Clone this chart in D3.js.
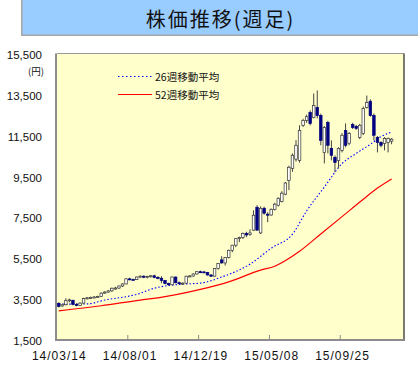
<!DOCTYPE html>
<html>
<head>
<meta charset="utf-8">
<script src="https://cdn.jsdelivr.net/npm/d3@7"></script>
<style>
body { margin: 0; background: #fff; }
svg { display: block; font-family: "Liberation Sans", Arial, sans-serif; }
</style>
</head>
<body>
<svg id="SVG_CONTAINER" width="420" height="366"></svg>
<script>
let d3 = window.d3;

// weekly candles, 14/03/14 onwards
const openVals  = [3250,3120,3180,3380,3400,3200,3150,3260,3480,3520,3540,3560,3580,3750,3800,3860,3990,4000,4100,4200,
                   4450,4420,4410,4540,4580,4530,4560,4600,4520,4480,4370,4220,4160,4540,4260,4210,4240,4580,4590,4690,
                   4800,4790,4760,4640,4580,4960,5380,5230,5500,5850,6100,6420,6480,6680,6620,6840,7960,6700,7910,7620,
                   7580,7860,8060,8250,8600,9280,9870,10320,10260,11980,12220,12610,12370,12860,12460,10650,12120,10850,10410,10260,
                   10750,11730,11100,12020,11930,11390,11580,12860,13160,12460,11390,11140,11090,11140,11200];
const highVals  = [3300,3200,3500,3480,3420,3250,3300,3520,3560,3580,3600,3620,3780,3850,3900,4020,4060,4120,4230,4480,
                   4500,4460,4560,4620,4620,4600,4640,4650,4580,4580,4400,4260,4560,4560,4320,4280,4600,4640,4720,4820,
                   4850,4840,4790,4680,4980,5220,5560,5520,5880,6120,6450,6520,6720,6760,6880,7810,8060,8000,7990,7720,
                   7900,8180,8450,8750,9200,10000,10600,11250,11980,12300,12500,12710,13540,13690,12550,11950,12200,11240,10500,10900,
                   11600,12070,11650,12100,12000,12050,12900,13440,13250,12560,11450,11200,11400,11380,11350];
const lowVals   = [3050,3080,3150,3300,3150,3100,3120,3240,3440,3480,3500,3520,3560,3720,3780,3820,3920,3950,4050,4180,
                   4380,4370,4390,4500,4480,4470,4520,4480,4430,4240,4180,4130,4140,4230,4180,4150,4220,4540,4560,4660,
                   4740,4740,4610,4540,4560,4900,5200,5100,5450,5750,6000,6250,6400,6500,6560,6800,6800,6650,7600,7230,
                   7550,7800,8000,8200,8550,8800,9700,10200,10150,11900,12100,11980,12320,12320,11000,10110,10600,10260,9680,9870,
                   10650,10900,11000,11800,11750,11300,11500,12800,12400,11240,10650,10900,10750,10650,11050];
const closeVals = [3100,3180,3380,3420,3200,3150,3260,3480,3520,3540,3560,3580,3750,3800,3860,3990,4000,4100,4200,4450,
                   4420,4410,4540,4580,4530,4560,4600,4520,4480,4370,4220,4160,4540,4260,4210,4240,4580,4590,4690,4800,
                   4790,4760,4640,4580,4960,5200,5230,5500,5850,6100,6420,6480,6680,6600,6700,7570,6840,7910,7670,7580,
                   7860,8110,8400,8650,9150,9920,10510,11000,11730,12220,12400,12070,12950,12460,11240,11870,11000,10510,10160,10850,
                   11490,11000,11580,11870,11830,11980,12810,13100,12460,11490,11140,11000,11340,11340,11300];

// moving averages (week index, value)
const ma26Weeks = [0, 8, 13, 22, 27, 35, 40, 46, 54, 60, 66, 70, 75, 80, 84, 88, 91, 94];
const ma26Vals  = [3210, 3220, 3410, 3690, 3990, 4190, 4240, 4540, 5170, 5950, 6640, 7780, 8950, 10100, 10600, 11050, 11420, 11650];
const ma52Weeks = [0, 12, 23, 28, 40, 48, 57, 61, 68, 74, 80, 86, 90, 94];
const ma52Vals  = [2880, 3130, 3410, 3520, 3930, 4300, 4880, 5070, 5800, 6650, 7500, 8350, 8900, 9350];

const yTicks     = [1500, 3500, 5500, 7500, 9500, 11500, 13500, 15500];
const tickIndex  = [0, 20, 40, 60, 80];
const tickLabels = ["14/03/14", "14/08/01", "14/12/19", "15/05/08", "15/09/25"];
const legendNames = ["26週移動平均", "52週移動平均"];

const PLOT = { "LEFT": 57, "RIGHT": 404, "TOP": 53.5, "BOTTOM": 339 };
const SLOTS = 98;

let svg = d3.select("#SVG_CONTAINER");

let xScale = d3.scaleLinear()
    .domain([0, SLOTS])
    .range([PLOT.LEFT, PLOT.RIGHT]);

let yScale = d3.scaleLinear()
    .domain([1500, 15500])
    .range([PLOT.BOTTOM, PLOT.TOP]);

let cx = i => xScale(i + 0.5);
let bodyW = (xScale(1) - xScale(0)) * 0.72;

// title box
svg.append("rect")
    .attr("x", 21).attr("y", 0)
    .attr("width", 397).attr("height", 36)
    .attr("fill", "#a6a6a6");
svg.append("rect")
    .attr("x", 22.5).attr("y", 0)
    .attr("width", 395.5).attr("height", 34.5)
    .attr("fill", "#99ccff");
svg.append("text")
    .attr("x", 220.5).attr("y", 27)
    .attr("text-anchor", "middle")
    .style("font-family", "'Noto Sans CJK JP', sans-serif")
    .style("font-size", "20px")
    .style("letter-spacing", "2px")
    .style("fill", "#111")
    .text("株価推移(週足)");

// plot area
svg.append("rect")
    .attr("x", PLOT.LEFT).attr("y", PLOT.TOP)
    .attr("width", PLOT.RIGHT - PLOT.LEFT)
    .attr("height", PLOT.BOTTOM - PLOT.TOP)
    .attr("fill", "#ffffcc");
svg.append("line")
    .attr("x1", PLOT.LEFT).attr("x2", PLOT.RIGHT)
    .attr("y1", PLOT.TOP).attr("y2", PLOT.TOP)
    .attr("stroke", "#999").attr("stroke-width", 1);
svg.append("line")
    .attr("x1", PLOT.LEFT - 1).attr("x2", PLOT.LEFT - 1)
    .attr("y1", PLOT.TOP).attr("y2", PLOT.BOTTOM + 2)
    .attr("stroke", "#8c8c8c").attr("stroke-width", 2);
svg.append("line")
    .attr("x1", PLOT.LEFT - 2).attr("x2", PLOT.RIGHT + 1)
    .attr("y1", PLOT.BOTTOM + 1).attr("y2", PLOT.BOTTOM + 1)
    .attr("stroke", "#8c8c8c").attr("stroke-width", 2);
svg.append("line")
    .attr("x1", PLOT.RIGHT).attr("x2", PLOT.RIGHT)
    .attr("y1", PLOT.TOP).attr("y2", PLOT.BOTTOM)
    .attr("stroke", "#222").attr("stroke-width", 1.2);

// small inside ticks on the x axis
svg.selectAll(".xtick")
    .data(tickIndex.filter(d => d > 0))
    .join("line")
    .attr("class", "xtick")
    .attr("x1", d => xScale(d)).attr("x2", d => xScale(d))
    .attr("y1", PLOT.BOTTOM).attr("y2", PLOT.BOTTOM - 4)
    .attr("stroke", "#888");

// y axis
let yAxis = d3.axisLeft(yScale)
    .tickValues(yTicks)
    .tickSize(0)
    .tickPadding(0)
    .tickFormat(d3.format(","));
let gy = svg.append("g")
    .attr("transform", "translate(42,1.5)")
    .call(yAxis);
gy.select(".domain").remove();
gy.selectAll("text")
    .style("font-family", "'Liberation Sans', Arial, sans-serif")
    .style("font-size", "11.5px")
    .style("fill", "#111");

svg.append("text")
    .attr("x", 44).attr("y", 75)
    .attr("text-anchor", "end")
    .style("font-family", "'Noto Sans CJK JP', sans-serif")
    .style("font-size", "9.5px")
    .style("fill", "#111")
    .text("(円)");

// x axis
let xAxis = d3.axisBottom(xScale)
    .tickValues(tickIndex.map(d => d + 0.5))
    .tickSize(0)
    .tickPadding(12)
    .tickFormat((d, i) => tickLabels[i]);
let gx = svg.append("g")
    .attr("transform", "translate(0," + PLOT.BOTTOM + ")")
    .call(xAxis);
gx.select(".domain").remove();
gx.selectAll("text")
    .style("font-family", "'Liberation Sans', Arial, sans-serif")
    .style("font-size", "12px")
    .style("letter-spacing", "1px")
    .style("fill", "#111");

// moving averages
let ma26 = ma26Weeks.map((w, i) => ({ w: w, v: ma26Vals[i] }));
let ma52 = ma52Weeks.map((w, i) => ({ w: w, v: ma52Vals[i] }));
let line = d3.line()
    .x(d => cx(d.w))
    .y(d => yScale(d.v))
    .curve(d3.curveMonotoneX);

svg.append("path")
    .attr("d", line(ma52))
    .attr("fill", "none")
    .attr("stroke", "#ff0000")
    .attr("stroke-width", 1.2);
svg.append("path")
    .attr("d", line(ma26))
    .attr("fill", "none")
    .attr("stroke", "#0000ff")
    .attr("stroke-width", 1.1)
    .attr("stroke-dasharray", "1.5,2");

// candles
let candles = openVals.map((o, i) => ({ i: i, o: o, h: highVals[i], l: lowVals[i], c: closeVals[i] }));

let chart = svg.append("g").attr("class", "candles");
chart.selectAll(".wick")
    .data(candles)
    .join("line")
    .attr("class", "wick")
    .attr("x1", d => cx(d.i)).attr("x2", d => cx(d.i))
    .attr("y1", d => yScale(d.h)).attr("y2", d => yScale(d.l))
    .attr("stroke", "#444")
    .attr("stroke-width", 1);
chart.selectAll(".body")
    .data(candles)
    .join("rect")
    .attr("class", "body")
    .attr("x", d => cx(d.i) - bodyW / 2)
    .attr("width", bodyW)
    .attr("y", d => yScale(Math.max(d.o, d.c)))
    .attr("height", d => Math.max(1, Math.abs(yScale(d.o) - yScale(d.c))))
    .attr("fill", d => d.c >= d.o ? "#ffffff" : "#000080")
    .attr("stroke", d => d.c >= d.o ? "#333" : "#000080")
    .attr("stroke-width", 0.7);

// legend
let legend = svg.append("g").attr("class", "legend");
legend.append("line")
    .attr("x1", 118).attr("x2", 152)
    .attr("y1", 76.5).attr("y2", 76.5)
    .attr("stroke", "#0000ff")
    .attr("stroke-width", 1.1)
    .attr("stroke-dasharray", "1.5,2.5");
legend.append("line")
    .attr("x1", 118).attr("x2", 152)
    .attr("y1", 94.5).attr("y2", 94.5)
    .attr("stroke", "#ff0000")
    .attr("stroke-width", 1.2);
legend.selectAll("text")
    .data(legendNames)
    .join("text")
    .attr("x", 155)
    .attr("y", (d, i) => 80.5 + i * 18)
    .style("font-family", "'Noto Sans CJK JP', sans-serif")
    .style("font-size", "10.5px")
    .style("fill", "#111")
    .text(d => d);
</script>
</body>
</html>
